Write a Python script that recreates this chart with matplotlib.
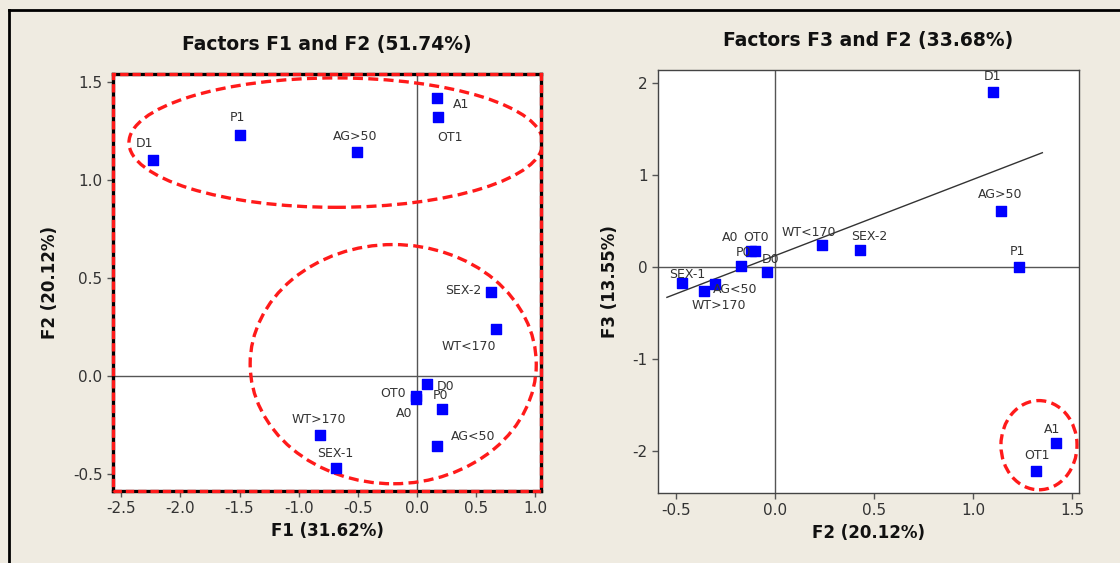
import matplotlib.pyplot as plt
from matplotlib.patches import Ellipse, Rectangle

plt.rcParams['font.family'] = ['DejaVu Sans']
plt.rcParams['axes.unicode_minus'] = False

# categories and coordinates
labels = ['D1', 'P1', 'AG>50', 'A1', 'OT1', 'SEX-2', 'WT<170',
          'D0', 'OT0', 'A0', 'P0', 'AG<50', 'WT>170', 'SEX-1']
f1 = [-2.23, -1.50, -0.51, 0.17, 0.18, 0.63, 0.67,
      0.085, -0.01, -0.01, 0.21, 0.17, -0.82, -0.68]
f2 = [1.10, 1.23, 1.14, 1.42, 1.32, 0.43, 0.24,
      -0.04, -0.10, -0.12, -0.17, -0.36, -0.30, -0.47]
f3 = [1.90, 0.0, 0.61, -1.92, -2.22, 0.18, 0.24,
      -0.06, 0.17, 0.17, 0.01, -0.26, -0.19, -0.18]
trend_x = [-0.545, 1.35]
trend_slope, trend_icpt = 0.83, 0.12

# label offsets in pixels (dx, dy)
off_left = {'D1': (-9, 17), 'P1': (-2, 17), 'AG>50': (-1, 16), 'A1': (24, -7),
            'OT1': (12, -20), 'SEX-2': (-28, 1), 'WT<170': (-27, -18),
            'D0': (19, -3), 'OT0': (-23, 2), 'A0': (-12, -14), 'P0': (-1, 14),
            'AG<50': (36, 10), 'WT>170': (-1, 15), 'SEX-1': (-1, 15)}
off_right = {'D1': (0, 16), 'P1': (-1, 15), 'AG>50': (-1, 16), 'A1': (-4, 14),
             'OT1': (1, 15), 'SEX-2': (9, 14), 'WT<170': (-14, 12),
             'D0': (4, 13), 'OT0': (1, 14), 'A0': (-21, 14), 'P0': (2, 13),
             'AG<50': (32, 1), 'WT>170': (3, -21), 'SEX-1': (5, 9)}

bg = '#efebe1'
txt = '#333333'
red = '#ff1a1a'
fig = plt.figure(figsize=(11.2, 5.63), dpi=100, facecolor=bg)

# black frame lines on top and left
fig.add_artist(plt.Line2D([9 / 1120, 1], [1 - 10 / 563, 1 - 10 / 563], color='black', lw=2))
fig.add_artist(plt.Line2D([9 / 1120, 9 / 1120], [0, 1 - 10 / 563], color='black', lw=2))

ax1 = fig.add_axes([113 / 1120, 1 - 491 / 563, 428 / 1120, 417 / 563])
ax2 = fig.add_axes([658 / 1120, 1 - 493 / 563, 421 / 1120, 423 / 563])


def style(ax):
    ax.set_facecolor('white')
    ax.tick_params(direction='out', length=4, width=1, colors='#555555',
                   labelcolor=txt, labelsize=11)
    for s in ax.spines.values():
        s.set_color('#444444')
        s.set_linewidth(1)


# ---- left: F1 vs F2
style(ax1)
ax1.axhline(0, color='#555555', lw=1, zorder=1)
ax1.axvline(0, color='#555555', lw=1, zorder=1)
ax1.scatter(f1, f2, marker='s', s=50, color='#0000ff', zorder=3)
for lab, x, y in zip(labels, f1, f2):
    ax1.annotate(lab, (x, y), xytext=off_left[lab], textcoords='offset pixels',
                 ha='center', va='center', fontsize=9, color=txt, zorder=4)
ax1.set_xlim(-2.57, 1.05)
ax1.set_ylim(-0.587, 1.54)
ax1.set_xticks([-2.5, -2.0, -1.5, -1.0, -0.5, 0.0, 0.5, 1.0])
ax1.set_yticks([-0.5, 0.0, 0.5, 1.0, 1.5])
ax1.add_patch(Ellipse((-0.685, 1.19), 3.5, 0.66, fill=False, ec=red,
                      lw=2.4, ls=(0, (3, 1.6)), zorder=2))
ax1.add_patch(Ellipse((-0.20, 0.06), 2.42, 1.22, fill=False, ec=red,
                      lw=2.4, ls=(0, (3, 1.6)), zorder=2))
for s in ax1.spines.values():
    s.set_color('black')
    s.set_linewidth(2.4)
ax1.add_patch(Rectangle((0, 0), 1, 1, transform=ax1.transAxes, fill=False,
                        ec=red, lw=2.4, ls=(0, (2.5, 1.2)), clip_on=False, zorder=5))
ax1.set_title('Factors F1 and F2 (51.74%)', fontsize=13.5, fontweight='bold',
              color='#111111', pad=17)
ax1.set_xlabel('F1 (31.62%)', fontsize=12, fontweight='bold', color='#111111')
ax1.set_ylabel('F2 (20.12%)', fontsize=12, fontweight='bold', color='#111111', labelpad=10)

# ---- right: F2 vs F3
style(ax2)
ax2.axhline(0, color='#555555', lw=1, zorder=1)
ax2.axvline(0, color='#555555', lw=1, zorder=1)
ax2.plot(trend_x, [trend_icpt + trend_slope * x for x in trend_x],
         color='#333333', lw=1, zorder=2)
ax2.scatter(f2, f3, marker='s', s=50, color='#0000ff', zorder=3)
for lab, x, y in zip(labels, f2, f3):
    ax2.annotate(lab, (x, y), xytext=off_right[lab], textcoords='offset pixels',
                 ha='center', va='center', fontsize=9, color=txt, zorder=4)
ax2.set_xlim(-0.59, 1.535)
ax2.set_ylim(-2.46, 2.14)
ax2.set_xticks([-0.5, 0.0, 0.5, 1.0, 1.5])
ax2.set_yticks([-2, -1, 0, 1, 2])
ax2.add_patch(Ellipse((1.333, -1.94), 0.384, 0.97, fill=False, ec=red,
                      lw=2.4, ls=(0, (3, 1.6)), zorder=2))
ax2.set_title('Factors F3 and F2 (33.68%)', fontsize=13.5, fontweight='bold',
              color='#111111', pad=17)
ax2.set_xlabel('F2 (20.12%)', fontsize=12, fontweight='bold', color='#111111')
ax2.set_ylabel('F3 (13.55%)', fontsize=12, fontweight='bold', color='#111111', labelpad=10)

fig.savefig('out.png', dpi=100, facecolor=bg)
